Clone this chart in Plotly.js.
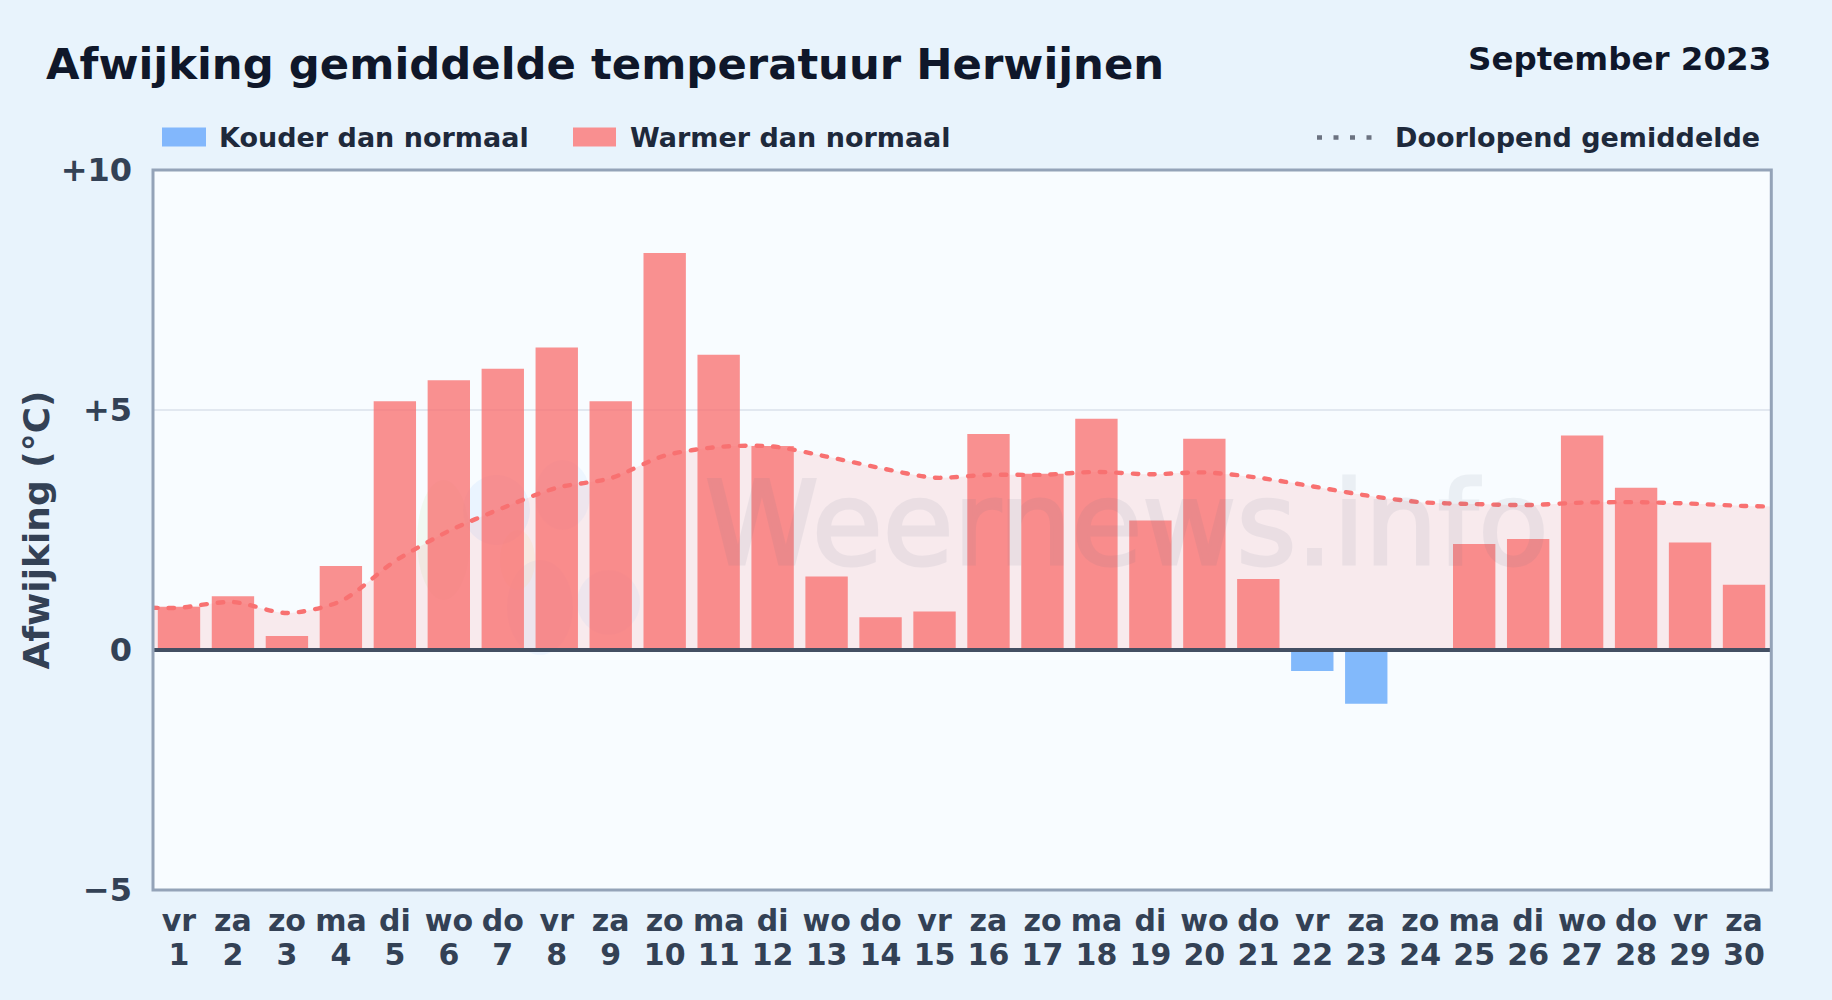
<!DOCTYPE html>
<html>
<head>
<meta charset="utf-8">
<script src="https://cdn.plot.ly/plotly-3.0.1.min.js"></script>
<style>
html,body{margin:0;padding:0;background:#e8f3fc;}
.js-line{stroke-linecap:round;}
.annotation[data-index="4"] text{stroke:#64748b;stroke-width:3px;}
</style>
</head>
<body>
<div id="chart" style="width:1832px;height:1000px"></div>
<script>
const weekdays = ["vr","za","zo","ma","di","wo","do","vr","za","zo","ma","di","wo","do","vr","za","zo","ma","di","wo","do","vr","za","zo","ma","di","wo","do","vr","za"];
const days = [1,2,3,4,5,6,7,8,9,10,11,12,13,14,15,16,17,18,19,20,21,22,23,24,25,26,27,28,29,30];
const warmer = [0.90,1.12,0.29,1.75,5.18,5.62,5.86,6.30,5.18,8.27,6.15,4.25,1.53,0.68,0.80,4.50,3.67,4.82,2.70,4.40,1.48,null,null,null,2.21,2.31,4.47,3.38,2.24,1.36];
const kouder = [null,null,null,null,null,null,null,null,null,null,null,null,null,null,null,null,null,null,null,null,null,-0.44,-1.12,null,null,null,null,null,null,null];
const runX = [0.5,1,2,3,4,5,6,7,8,9,10,11,12,13,14,15,16,17,18,19,20,21,22,23,24,25,26,27,28,29,30,30.5];
const runAvg = [0.88,0.88,1.00,0.77,1.02,1.85,2.48,2.96,3.38,3.58,4.05,4.23,4.24,4.03,3.79,3.59,3.65,3.65,3.71,3.66,3.70,3.59,3.41,3.22,3.08,3.04,3.02,3.07,3.08,3.05,3.00,2.99];
const yTickVals = [-5,0,5,10];
const yTickText = ["\u22125","0","+5","+10"];

const W = 1832, H = 1000;
const L = 152, R = 61, T = 169.5, B = 109.5;
const PW = W-L-R, PH = H-T-B;
const FAMILY = '"DejaVu Sans", sans-serif';
const bold = (size,color)=>({family:FAMILY,size:size,color:color,weight:700});
const ax = v => (v-L)/PW, ay = v => (H-B-v)/PH;
const RED='#f87171', BLUE='#60a5fa', RED_S='#f98f90', BLUE_S='#82b7fc';

const traces = [
  {type:'scatter',mode:'lines',name:'Gebied',x:runX,y:runAvg,xaxis:'x',yaxis:'y',
   line:{width:0,shape:'spline',smoothing:0.8},fill:'tozeroy',fillcolor:'rgba(248,113,113,0.125)',hoverinfo:'skip',showlegend:false},
  {type:'bar',name:'Warmer dan normaal',x:days,y:warmer,xaxis:'x2',yaxis:'y2',width:0.785,
   marker:{color:RED,opacity:0.78,line:{width:0}},showlegend:false},
  {type:'bar',name:'Kouder dan normaal',x:days,y:kouder,xaxis:'x2',yaxis:'y2',width:0.785,
   marker:{color:BLUE,opacity:0.78,line:{width:0}},showlegend:false},
  {type:'scatter',mode:'lines',name:'Doorlopend gemiddelde',x:runX,y:runAvg,xaxis:'x2',yaxis:'y2',
   line:{color:RED,width:4.4,dash:'5.5px,11px',shape:'spline',smoothing:0.8},showlegend:false}
];

function ell(x0,y0,x1,y1,color){
  return {type:'circle',xref:'paper',yref:'paper',layer:'below',
    x0:ax(x0),x1:ax(x1),y0:ay(y0),y1:ay(y1),fillcolor:color,line:{width:0}};
}

const layout = {
  width:W,height:H,
  paper_bgcolor:'#e8f3fc',plot_bgcolor:'#f8fcff',
  margin:{l:L,r:R,t:T,b:B,pad:0},
  barmode:'overlay',
  font:{family:FAMILY},
  title:{text:'Afwijking gemiddelde temperatuur Herwijnen',x:46/W,xanchor:'left',xref:'container',
         y:1-64/H,yanchor:'middle',yref:'container',font:bold(43.35,'#0f172a')},
  xaxis:{range:[0.5,30.5],tickmode:'array',tickvals:days,ticktext:weekdays,showgrid:false,zeroline:false,
         ticks:'',ticklabelstandoff:10,tickfont:bold(30,'#334155'),tickangle:0,showline:false,automargin:false},
  xaxis2:{range:[0.5,30.5],overlaying:'x',side:'bottom',anchor:'y',tickmode:'array',tickvals:days,ticktext:days.map(String),showgrid:false,zeroline:false,
         ticks:'',ticklabelstandoff:44,tickfont:bold(30,'#334155'),tickangle:0,showline:false,automargin:false},
  yaxis:{range:[-5,10],tickmode:'array',tickvals:yTickVals,ticktext:yTickText,showgrid:true,gridcolor:'#e2e8f0',gridwidth:2,zeroline:false,
         ticks:'',ticklabelstandoff:19,tickfont:bold(32,'#334155'),showline:false,automargin:false,
         title:{text:'Afwijking (°C)',font:bold(36,'#334155'),standoff:0}},
  yaxis2:{range:[-5,10],overlaying:'y',side:'left',anchor:'x2',visible:false,automargin:false},
  shapes:[
    ell(463,475,530,545,'rgba(96,165,250,0.09)'),
    ell(535,460,590,530,'rgba(96,165,250,0.07)'),
    ell(507,560,573,655,'rgba(96,165,250,0.08)'),
    ell(577,570,640,635,'rgba(96,165,250,0.07)'),
    ell(417,480,470,600,'rgba(190,230,150,0.12)'),
    ell(500,530,535,590,'rgba(253,224,120,0.12)'),
    {type:'line',xref:'paper',yref:'y',x0:0,x1:1,y0:0,y1:0,layer:'above',line:{color:'#434f63',width:4}},
    {type:'rect',xref:'paper',yref:'paper',x0:ax(153),x1:ax(1771.3),y0:ay(890.6),y1:ay(169.4),layer:'above',line:{color:'#94a3b8',width:3},fillcolor:'rgba(0,0,0,0)'},
    {type:'rect',xref:'paper',yref:'paper',x0:ax(162),x1:ax(206),y0:ay(146),y1:ay(127),line:{width:0},fillcolor:BLUE_S},
    {type:'rect',xref:'paper',yref:'paper',x0:ax(573),x1:ax(616),y0:ay(146),y1:ay(127),line:{width:0},fillcolor:RED_S},
    {type:'line',xref:'paper',yref:'paper',x0:ax(1317),x1:ax(1374),y0:ay(137),y1:ay(137),line:{color:'#6b7280',width:4.5,dash:'5px,11.5px'}}
  ],
  annotations:[
    {text:'September 2023',xref:'paper',yref:'paper',x:ax(1773),y:ay(58),xanchor:'right',yanchor:'middle',showarrow:false,font:bold(32.5,'#0f172a')},
    {text:'Kouder dan normaal',xref:'paper',yref:'paper',x:ax(217),y:ay(137),xanchor:'left',yanchor:'middle',showarrow:false,font:bold(27,'#1e293b')},
    {text:'Warmer dan normaal',xref:'paper',yref:'paper',x:ax(628),y:ay(137),xanchor:'left',yanchor:'middle',showarrow:false,font:bold(27,'#1e293b')},
    {text:'Doorlopend gemiddelde',xref:'paper',yref:'paper',x:ax(1762),y:ay(137),xanchor:'right',yanchor:'middle',showarrow:false,font:bold(27,'#1e293b')},
    {text:'Weernews.info',xref:'paper',yref:'paper',x:ax(1127),y:ay(524),xanchor:'center',yanchor:'middle',showarrow:false,opacity:0.09,font:{family:FAMILY,size:115,color:'#64748b'}}
  ]
};
Plotly.newPlot('chart',traces,layout,{displayModeBar:false,staticPlot:true});
</script>
</body>
</html>
